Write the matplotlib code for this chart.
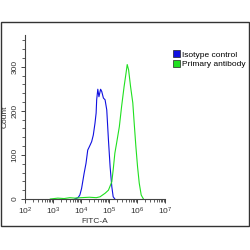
import matplotlib.pyplot as plt
from matplotlib.patches import Rectangle
from matplotlib.ticker import LogLocator, MultipleLocator

plt.rcParams["font.family"] = ["Liberation Sans", "DejaVu Sans"]

# Isotype control histogram (FITC-A value, count)
iso_x = [6000, 7800, 9100, 10500, 12900, 15100, 17400, 20000, 24000, 27500, 31600,
         34700, 36300, 39800, 43700, 50100, 55000, 63100, 72400, 83200, 95500,
         109600, 125900, 141000, 162000]
iso_y = [0, 3, 9, 24, 58, 81, 111, 119, 130, 145, 172,
         195, 225, 249, 232, 249, 244, 229, 225, 202, 134,
         73, 28, 5, 0]

# Primary antibody histogram
pri_x = [800, 1500, 2500, 4000, 6000, 10000, 20000, 35000, 47900, 72400, 95500,
         125900, 141000, 162000, 186000, 234000, 282000, 346000, 407000, 447000,
         501000, 589000, 708000, 794000, 912000, 1047000, 1202000, 1413000, 1700000]
pri_y = [0, 2, 1, 3, 2, 3, 4, 3, 5, 13, 20,
         39, 66, 104, 126, 164, 210, 255, 286, 305,
         293, 255, 218, 172, 119, 73, 36, 9, 0]

labels = ["Isotype control", "Primary antibody"]
colors = ["#1010e0", "#20e020"]

fig = plt.figure(figsize=(2.5, 2.5), dpi=100)
fig.patches.append(Rectangle((0.002, 0.096), 0.994, 0.816, transform=fig.transFigure,
                             fill=False, edgecolor="#333333", linewidth=1.0))
ax = fig.add_axes([0.1, 0.204, 0.56, 0.656])

ax.plot(iso_x, iso_y, color=colors[0], linewidth=0.8, label=labels[0])
ax.plot(pri_x, pri_y, color=colors[1], linewidth=0.8, label=labels[1])

ax.set_xscale("log")
ax.set_xlim(100, 1e7)
ax.set_ylim(0, 372)
ax.xaxis.set_major_locator(LogLocator(base=10, numticks=10))
ax.xaxis.set_minor_locator(LogLocator(base=10, subs=range(2, 10), numticks=20))
ax.yaxis.set_major_locator(MultipleLocator(100))
ax.yaxis.set_minor_locator(MultipleLocator(20))

for s in ["top", "right"]:
    ax.spines[s].set_visible(False)
ax.spines["left"].set_color("#444444")
ax.spines["bottom"].set_color("#444444")
ax.spines["left"].set_linewidth(0.8)
ax.spines["bottom"].set_linewidth(0.8)

ax.tick_params(axis="both", which="major", labelsize=6, length=3, width=0.7,
               colors="#444444", labelcolor="#333333", pad=1.5)
ax.tick_params(axis="both", which="minor", length=2, width=0.6, colors="#444444")
for t in ax.get_yticklabels():
    t.set_rotation(90)
    t.set_va("center")

ax.set_xlabel("FITC-A", fontsize=6, color="#333333", labelpad=1)
ax.set_ylabel("Count", fontsize=6, color="#333333", labelpad=2)

handles = [Rectangle((0, 0), 1, 1, facecolor=c, edgecolor="#222222", linewidth=0.5)
           for c in colors]
fig.legend(handles, labels, loc="upper left", bbox_to_anchor=(0.675, 0.815),
           fontsize=6, frameon=False, handlelength=0.8, handleheight=0.9,
           handletextpad=0.3, labelspacing=0.15, borderpad=0)

fig.savefig("out.png", dpi=100)
